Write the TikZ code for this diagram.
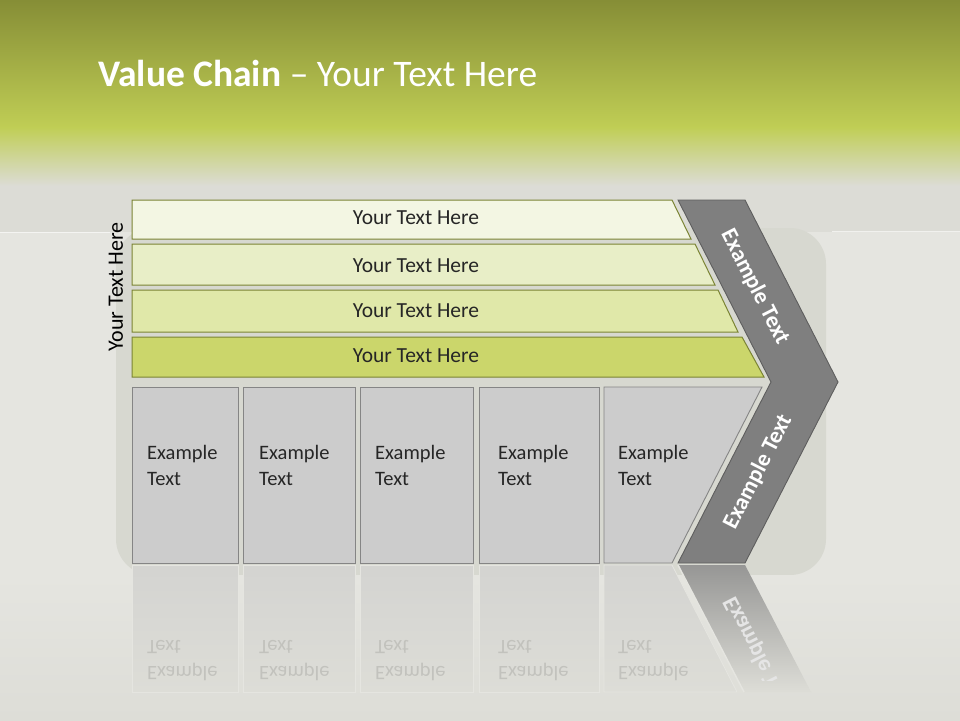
\documentclass[tikz,border=0pt]{standalone}
\usepackage{fontspec}
\setmainfont{Carlito}
\usetikzlibrary{positioning}

\definecolor{bgGray}{HTML}{DCDCD6}
\definecolor{bgLight}{HTML}{E5E5E0}
\definecolor{bgPanel}{HTML}{D7D8D0}
\definecolor{bgLow}{HTML}{DDDDD7}
\definecolor{headTop}{HTML}{868E36}
\definecolor{headMid}{HTML}{C0CE55}
\definecolor{barLine}{HTML}{7B8434}
\definecolor{barA}{HTML}{F3F6E3}
\definecolor{barB}{HTML}{E8EEC7}
\definecolor{barC}{HTML}{E0E8A9}
\definecolor{barD}{HTML}{CBD66B}
\definecolor{boxFill}{HTML}{CCCCCC}
\definecolor{boxLine}{HTML}{858585}
\definecolor{chevFill}{HTML}{7F7F7F}
\definecolor{chevLine}{HTML}{5E5E5E}
\definecolor{textDark}{HTML}{262626}
\definecolor{mirrorText}{HTML}{C2C2BD}

\begin{document}
\begin{tikzpicture}[x=1pt, y=-1pt,
    bar/.style={draw=barLine, line width=1pt},
    graybox/.style={draw=boxLine, fill=boxFill, line width=0.9pt},
    bartext/.style={text=textDark, font=\fontsize{21.5}{24}\selectfont},
    boxtext/.style={text=textDark, font=\fontsize{20.5}{26}\selectfont, align=left, anchor=west, inner sep=0pt},
    chevtext/.style={text=white, font=\bfseries\fontsize{23}{26}\selectfont},
    mirrorbox/.style={draw=bgLight, line width=0.8pt, top color=boxFill!55!bgLow, bottom color=bgLow},
    mirrortext/.style={text=mirrorText, font=\fontsize{20.5}{26}\selectfont, align=left, anchor=west, inner sep=0pt, transform shape}]
    % --- canvas and background ---
    \useasboundingbox (0,0) rectangle (960,720);
    \fill[bgGray] (0,0) rectangle (960,720);
    \fill[bgLight] (0,232) rectangle (960,720);
    \fill[bgPanel, rounded corners=36pt] (116,228) rectangle (826,575);
    \shade[top color=bgLight, bottom color=bgLow] (0,575) rectangle (960,720);
    \draw[white, opacity=0.6, line width=1pt] (0,232) -- (110,232);
    \draw[white, opacity=0.6, line width=1pt] (832,231) -- (960,231);
    % green header band fading into grey
    \shade[top color=headTop, bottom color=headMid] (0,0) rectangle (960,128);
    \shade[top color=headMid, bottom color=bgGray] (0,127) rectangle (960,186);

    % --- title ---
    \node[anchor=base west, inner sep=0pt, text=white, font=\fontsize{37.5}{42}\selectfont]
        (title) at (98,86) {\textbf{Value Chain} – Your Text Here};

    % --- stacked bars (support activities) ---
    \draw[bar, fill=barA] (132,200) -- (672,200) -- (691,239) -- (132,239) -- cycle;
    \draw[bar, fill=barB] (132,244) -- (695,244) -- (715,285) -- (132,285) -- cycle;
    \draw[bar, fill=barC] (132,290) -- (718,290) -- (738,332) -- (132,332) -- cycle;
    \draw[bar, fill=barD] (132,337) -- (742,337) -- (764,377) -- (132,377) -- cycle;
    \node[bartext] (bar1) at (416,218) {Your Text Here};
    \node[bartext] (bar2) at (416,266) {Your Text Here};
    \node[bartext] (bar3) at (416,311) {Your Text Here};
    \node[bartext] (bar4) at (416,356) {Your Text Here};

    % side label
    \node[rotate=90, text=black, font=\fontsize{22}{24}\selectfont] (side) at (116,287) {Your Text Here};

    % --- primary activity boxes ---
    \draw[graybox] (132,387) rectangle (238,563);
    \draw[graybox] (243,387) rectangle (355,563);
    \draw[graybox] (360,387) rectangle (473,563);
    \draw[graybox] (479,387) rectangle (599,563);
    \draw[graybox] (604,387) -- (762,387) -- (672,563) -- (604,563) -- cycle;
    \node[boxtext] (box1) at (147,465) {Example\\Text};
    \node[boxtext] (box2) at (259,465) {Example\\Text};
    \node[boxtext] (box3) at (375,465) {Example\\Text};
    \node[boxtext] (box4) at (498,465) {Example\\Text};
    \node[boxtext] (box5) at (618,465) {Example\\Text};

    % --- chevron (margin) ---
    \draw[fill=chevFill, draw=chevLine, line width=0.9pt]
        (678,200) -- (745,200) -- (838,382) -- (745,563) -- (678,563) -- (771,382) -- cycle;
    \node[chevtext, rotate=-63] (chevup) at (755,287) {Example Text};
    \node[chevtext, rotate=63] (chevdown) at (758,472) {Example Text};

    % --- mirror image below the boxes ---
    \draw[mirrorbox] (132,565) rectangle (238,692);
    \draw[mirrorbox] (243,565) rectangle (355,692);
    \draw[mirrorbox] (360,565) rectangle (473,692);
    \draw[mirrorbox] (479,565) rectangle (599,692);
    \draw[mirrorbox] (604,565) -- (672,565) -- (737,692) -- (604,692) -- cycle;
    \shade[top color=chevFill!75!bgLow, bottom color=bgLow]
        (678,565) -- (745,565) -- (811,692) -- (744,692) -- cycle;
    \draw[bgLight, line width=1.5pt] (678,565) -- (744,692);
    \begin{scope}[shift={(0,1126)}, yscale=-1]
        \node[mirrortext] (mbox1) at (147,465) {Example\\Text};
        \node[mirrortext] (mbox2) at (259,465) {Example\\Text};
        \node[mirrortext] (mbox3) at (375,465) {Example\\Text};
        \node[mirrortext] (mbox4) at (498,465) {Example\\Text};
        \node[mirrortext] (mbox5) at (618,465) {Example\\Text};
    \end{scope}
    \begin{scope}
        \clip (0,565) rectangle (960,680);
        \begin{scope}[shift={(0,1126)}, yscale=-1]
            \node[chevtext, text=white!80!gray, rotate=63, transform shape] (mchev) at (758,472) {Example Text};
        \end{scope}
    \end{scope}
\end{tikzpicture}
\end{document}
